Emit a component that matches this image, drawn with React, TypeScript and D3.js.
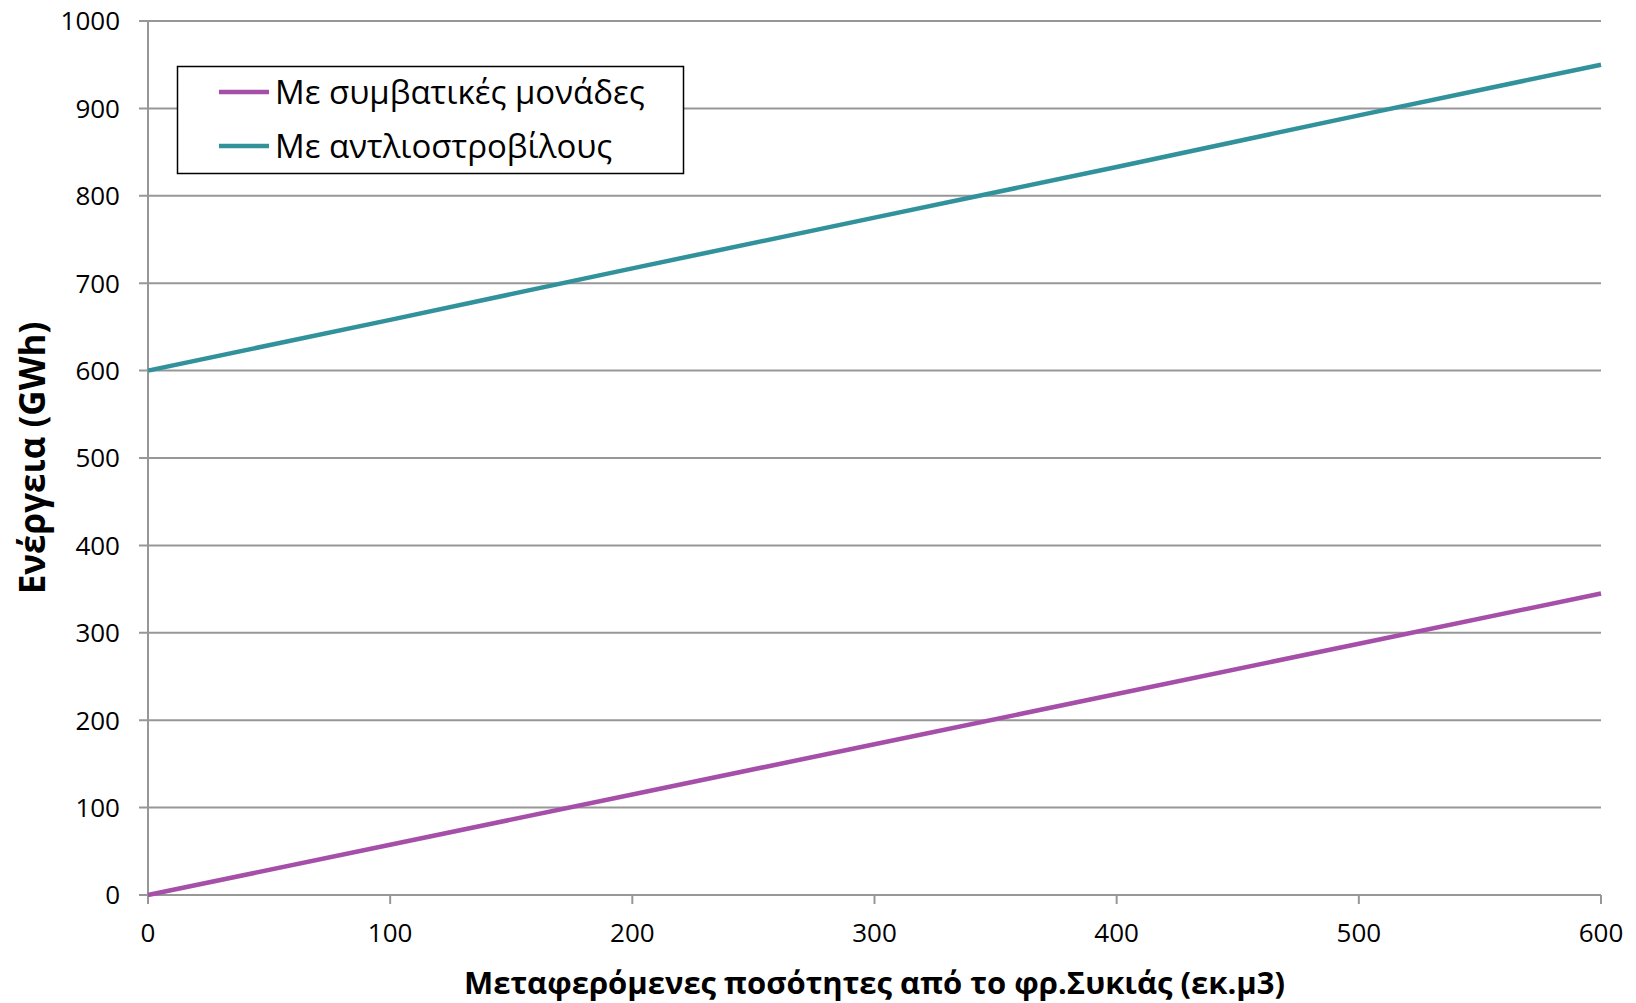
import React from 'react';
import * as d3 from 'd3';

// transferred volumes (hm3)
const volumes = [0, 100, 200, 300, 400, 500, 600];
// energy, GWh
const conventional = [0, 57.5, 115, 172.5, 230, 287.5, 345];
const pumpedStorage = [600, 658, 717, 775, 833, 892, 950];

const seriesNames = ['Με συμβατικές μονάδες', 'Με αντλιοστροβίλους'];
const seriesColors = ['#A54FA9', '#31929B'];

const xTicks = [0, 100, 200, 300, 400, 500, 600];
const yTicks = [0, 100, 200, 300, 400, 500, 600, 700, 800, 900, 1000];

const xTitle = 'Μεταφερόμενες ποσότητες από το φρ.Συκιάς (εκ.μ3)';
const yTitle = 'Ενέργεια (GWh)';

const W = 1636;
const H = 1003;
const margin = { top: 21, right: 35, bottom: 108, left: 148 };
const font = '"Open Sans", "Noto Sans", sans-serif';

const App = () => {
  const x = d3.scaleLinear().domain([0, 600]).range([margin.left, W - margin.right]);
  const y = d3.scaleLinear().domain([0, 1000]).range([H - margin.bottom, margin.top]);

  const line = d3
    .line<number>()
    .x((_, i) => x(volumes[i]))
    .y((d) => y(d));

  const series = [conventional, pumpedStorage];
  const gridColor = '#979797';

  return (
    <div style={{ position: 'absolute', left: 0, top: 0 }}>
      <svg width={W} height={H} style={{ display: 'block', background: '#fff' }} fontFamily={font}>
        {/* gridlines + y ticks */}
        {yTicks.map((t) => (
          <g key={t}>
            <line x1={x(0) - 9} x2={x(600)} y1={y(t)} y2={y(t)} stroke={gridColor} strokeWidth={2} />
            <text x={120} y={y(t)} dy="0.36em" textAnchor="end" fontSize={26} fill="#000">
              {t}
            </text>
          </g>
        ))}
        {/* left axis */}
        <line x1={x(0)} x2={x(0)} y1={y(1000)} y2={y(0)} stroke={gridColor} strokeWidth={2} />
        {/* x ticks */}
        {xTicks.map((t) => (
          <g key={t}>
            <line x1={x(t)} x2={x(t)} y1={y(0)} y2={y(0) + 9} stroke={gridColor} strokeWidth={2} />
            <text x={x(t)} y={y(0) + 47} textAnchor="middle" fontSize={26} fill="#000">
              {t}
            </text>
          </g>
        ))}

        {series.map((s, i) => (
          <path key={i} d={line(s) || ''} fill="none" stroke={seriesColors[i]} strokeWidth={4.5} />
        ))}

        {/* titles */}
        <text x={(x(0) + x(600)) / 2} y={994} textAnchor="middle" fontSize={31} fontWeight="bold" fill="#000">
          {xTitle}
        </text>
        <text
          transform={`translate(45,${(y(0) + y(1000)) / 2}) rotate(-90)`}
          textAnchor="middle"
          fontSize={35}
          fontWeight="bold"
          fill="#000"
        >
          {yTitle}
        </text>

        {/* legend */}
        <rect x={177.5} y={66.5} width={506} height={107} fill="#fff" stroke="#000" strokeWidth={1.5} />
        {seriesNames.map((n, i) => (
          <g key={n}>
            <line x1={219} x2={269} y1={92 + i * 54} y2={92 + i * 54} stroke={seriesColors[i]} strokeWidth={4.5} />
            <text x={275} y={92 + i * 54} dy="0.36em" fontSize={33} fill="#000">
              {n}
            </text>
          </g>
        ))}
      </svg>
    </div>
  );
};

export default App;
